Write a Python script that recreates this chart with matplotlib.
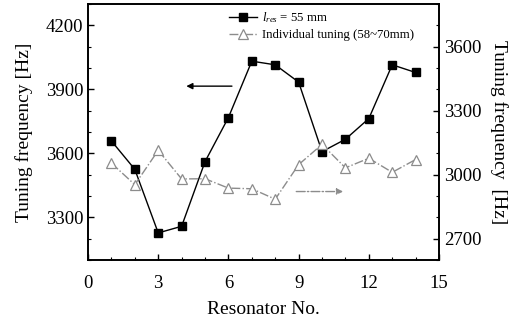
import numpy as np
import matplotlib
matplotlib.use('Agg')
import matplotlib.pyplot as plt
from matplotlib.ticker import MultipleLocator

# %% data

resonator = [1, 2, 3, 4, 5, 6, 7, 8, 9, 10, 11, 12, 13, 14]

# l_res = 55 mm (left axis)
f_fixed = [3658, 3525, 3227, 3258, 3561, 3768, 4032, 4015, 3934, 3608, 3666, 3763, 4015, 3979]

# individual tuning 58~70 mm (right axis)
f_indiv = [3054, 2953, 3114, 2980, 2981, 2937, 2934, 2885, 3047, 3142, 3032, 3077, 3011, 3071]

left_lim = (3100, 4300)
right_lim = (2600, 3800)

# %% style

plt.rcParams['font.family'] = ['Liberation Serif', 'DejaVu Serif']
plt.rcParams['mathtext.fontset'] = 'custom'
plt.rcParams['mathtext.it'] = 'Liberation Serif:italic'
plt.rcParams['mathtext.rm'] = 'Liberation Serif'

gray = '#8c8c8c'

fig = plt.figure(figsize=(5.19, 3.21), dpi=100)
ax = fig.add_axes([0.1696, 0.19, 0.6763, 0.7975])
ax2 = ax.twinx()

# %% lines

l1, = ax.plot(resonator, f_fixed, color='black', lw=1.0, marker='s',
              ms=5.2, mfc='black', mec='black', zorder=3,
              label=r'$l_{res}$ = 55 mm')
l2, = ax2.plot(resonator, f_indiv, color=gray, lw=1.0, ls='-.', marker='^',
               ms=7, mfc='white', mec=gray, mew=0.9,
               label='Individual tuning (58~70mm)')

# %% arrows

ax.annotate('', xy=(4.2, 3915), xytext=(6.15, 3915),
            arrowprops=dict(arrowstyle='-|>', color='black', lw=1.0,
                            mutation_scale=9, shrinkA=0, shrinkB=0))
ax2.annotate('', xy=(10.9, 2921), xytext=(8.9, 2921),
             arrowprops=dict(arrowstyle='-|>', color=gray, lw=1.0, ls='-.',
                             mutation_scale=9, shrinkA=0, shrinkB=0))

# %% axes

ax.set_xlim(0, 15)
ax.set_ylim(*left_lim)
ax2.set_ylim(*right_lim)

ax.xaxis.set_major_locator(MultipleLocator(3))
ax.xaxis.set_minor_locator(MultipleLocator(1))
ax.yaxis.set_major_locator(MultipleLocator(300))
ax.yaxis.set_minor_locator(MultipleLocator(100))
ax2.yaxis.set_major_locator(MultipleLocator(300))
ax2.yaxis.set_minor_locator(MultipleLocator(100))

ax.tick_params(axis='both', which='major', direction='in', length=4, width=1,
               labelsize=13.5, top=False)
ax.tick_params(axis='x', which='major', pad=11)
ax.tick_params(axis='both', which='minor', direction='in', length=2.5, width=0.8,
               top=False)
ax2.tick_params(axis='y', which='major', direction='in', length=4, width=1,
                labelsize=13.5)
ax2.tick_params(axis='y', which='minor', direction='in', length=2.5, width=0.8)
ax.tick_params(axis='y', which='both', right=False)

for a in (ax, ax2):
    for s in a.spines.values():
        s.set_linewidth(1.2)

ax.set_xlabel('Resonator No.', fontsize=14, labelpad=6)
ax.set_ylabel('Tuning frequency [Hz]', fontsize=14, labelpad=9)
ax2.set_ylabel('Tuning frequency  [Hz]', fontsize=14, rotation=270, labelpad=19)

# %% legend

ax2.legend(handles=[l1, l2], loc='upper left', bbox_to_anchor=(0.38, 1.005),
           frameon=False, fontsize=9.2, handlelength=2.2, handletextpad=0.4,
           labelspacing=0.3, borderaxespad=0.2)

fig.savefig('out.png', dpi=100)
